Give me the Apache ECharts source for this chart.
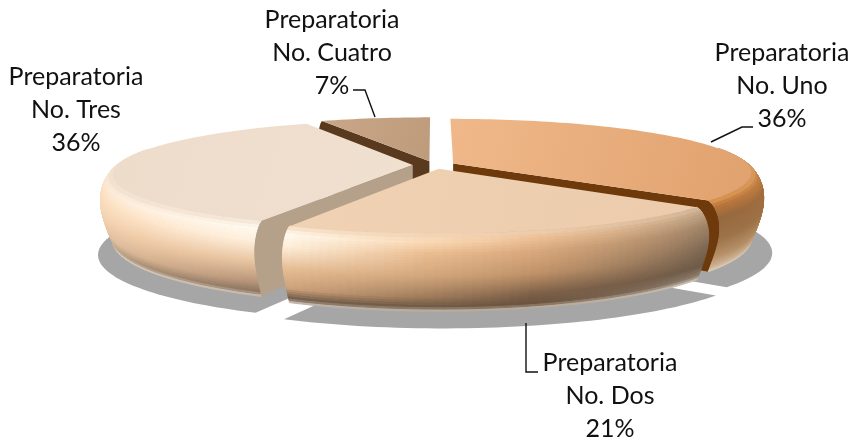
<!DOCTYPE html>
<html><head><meta charset="utf-8">
<style>html,body{margin:0;padding:0;background:#fff}#c{width:854px;height:441px}</style>
<script src="https://cdn.jsdelivr.net/npm/echarts@6/dist/echarts.min.js"></script>
</head><body><div id="c"></div>
<script>
const categories = ["Preparatoria No. Uno","Preparatoria No. Dos","Preparatoria No. Tres","Preparatoria No. Cuatro"];
const shares = [36,21,36,7];

// ---- drawing layout (not data) ----
const CX=434, CY=165, RX=295, RY=52.5, PERSP=0.167, EXPLODE=0.072, WALL=64, BULGE=0.04;
const SHADOW_DROP=78, SHADOW_R=1.06, SHADOW_DX=0.01;
const PROFILE_T=[0,.07,.22,.5,.78,.93,1];
const looks=[
 {z:2, top:['#f0b88a','#e0a26e'], face:'#6e3a0c', rim:[
   [80,['#dca36d','#d08c4c','#b0743c','#a06f42','#b28a5e','#c4a684','#d8c6b0']],
   [130,['#e09a55','#b8743a','#96683f','#9c7349','#b8916a','#cdb294','#ddd0c0']]]},
 {z:4, top:['#f0d2b4','#ebcbab'], face:'#a58c74', rim:[
   [130,['#d8bc9e','#bfa283','#a08468','#7f6a55','#6f5b48','#8f7f6e','#d8d0c4']],
   [165,['#efcfb0','#eec096','#d9a87c','#c09268','#7e6148','#6a523e','#cfc5b8']],
   [182,['#f1d2b4','#fbdcb8','#eabc90','#d2a67c','#a07c5c','#6e5843','#d0c6ba']],
   [205.2,['#f6dcc0','#fffaf0','#fff0dc','#e8bf96','#cfa47c','#705a48','#d8d0c8']]]},
 {z:3, top:['#eedccb','#f0e0d0'], face:'#b5a08a', rim:[
   [205.2,['#f4e4d4','#fffaf0','#fff0de','#e8c4a0','#b8957a','#8b7460','#d9cfc4']],
   [232,['#f0dfce','#fff2e2','#fde4c8','#f0cca8','#d8b492','#a58b72','#e0d6ca']],
   [285,['#efdecd','#f6e0ca','#fad9b5','#fcdfc2','#f6dcc3','#f0d8c0','#f3e4d4']]]},
 {z:1, top:['#c9a687','#bd9b7b'], face:'#5a3a1e', rim:[[340,['#c9a687','#c9a687','#c9a687','#c9a687','#c9a687','#c9a687','#c9a687']]]}
];
const labelLooks=[
 {x:782,y:86,line:[[711,142],[742,127],[753,127]]},
 {x:610,y:396,line:[[526,323],[526,372],[538,372]]},
 {x:76,y:110,line:null},
 {x:332,y:53,line:[[375,117],[365,90],[353,90]]}
];
const FONT='Lato, Carlito, sans-serif';

function hex(c){return [1,3,5].map(i=>parseInt(c.substr(i,2),16));}
function rgbmix(a,b,f){return a.map((v,i)=>v+(b[i]-v)*f);}
function profileColor(stops,t){
  let i=0; while(i<PROFILE_T.length-2&&t>PROFILE_T[i+1])i++;
  const f=(t-PROFILE_T[i])/(PROFILE_T[i+1]-PROFILE_T[i]);
  return rgbmix(hex(stops[i]),hex(stops[i+1]),Math.min(1,Math.max(0,f)));
}
function rimColor(look,deg,t){
  const r=look.rim; let A=r[0],B=r[r.length-1];
  for(let i=0;i<r.length-1;i++){if(deg>=r[i][0]&&deg<=r[i+1][0]){A=r[i];B=r[i+1];}}
  if(deg<r[0][0]){A=B=r[0];} if(deg>r[r.length-1][0]){A=B=r[r.length-1];}
  const f=A===B?0:(deg-A[0])/(B[0]-A[0]);
  const c=rgbmix(profileColor(A[1],t),profileColor(B[1],t),f);
  return 'rgb('+c.map(Math.round).join(',')+')';
}
function project(u,v,drop){const s=1/(1-PERSP*v);return [CX+RX*u*s, CY+RY*v*s+drop*s];}
function prof(t){return 1+BULGE*Math.sin(Math.PI*Math.pow(t,0.7));}

function renderSlice(params,api){
  const idx=params.dataIndex, val=api.value(0);
  let before=0,total=0; shares.forEach((s,i)=>{total+=s;if(i<idx)before+=s;});
  const a0=before/total*360, a1=(before+val)/total*360, mid=(a0+a1)/2*Math.PI/180;
  const ox=EXPLODE*Math.sin(mid), oy=-EXPLODE*Math.cos(mid);
  const look=looks[idx], kids=[];
  const pt=(deg,r,drop)=>{const a=deg*Math.PI/180;return project(ox+r*Math.sin(a),oy-r*Math.cos(a),drop);};
  const poly=(points,fill,z,stroke)=>kids.push({type:'polygon',z2:z,shape:{points},silent:true,
     style:stroke?{fill,stroke:fill,lineWidth:1}:{fill}});
  const n=Math.max(8,Math.round((a1-a0)/1.5));
  const angles=[];for(let i=0;i<=n;i++)angles.push(a0+(a1-a0)*i/n);
  const Z=look.z*100000;

  const sh=[];
  angles.forEach(d=>{const a=d*Math.PI/180;sh.push(project(SHADOW_DX+ox+SHADOW_R*Math.sin(a),oy-Math.cos(a),SHADOW_DROP));});
  sh.push(project(SHADOW_DX+ox,oy,SHADOW_DROP));
  kids.push({type:'polygon',z2:0,silent:true,shape:{points:sh},style:{fill:'#a6a6a6'}});

  const BANDS=30;
  const faceAt=(deg)=>{
    const pts=[pt(deg,0,0)];
    for(let j=0;j<=BANDS;j++){const t=j/BANDS;pts.push(pt(deg,prof(t),t*WALL));}
    pts.push(pt(deg,0,WALL));
    poly(pts,look.face,Z+1);
  };
  if(Math.sin(a1*Math.PI/180)>0.01)faceAt(a1);
  if(Math.sin(a0*Math.PI/180)<-0.01)faceAt(a0);

  // lower bands first, so the upper curve of the wall hides its underside
  for(let j=BANDS-1;j>=0;j--){
    const t=j/BANDS,t2=(j+1)/BANDS;
    for(let i=0;i<n;i++){
      const d0=angles[i],d1=angles[i+1];
      if(-Math.cos((d0+d1)/2*Math.PI/180)<-0.3)continue;
      poly([pt(d0,prof(t),t*WALL),pt(d1,prof(t),t*WALL),pt(d1,prof(t2),t2*WALL),pt(d0,prof(t2),t2*WALL)],
        rimColor(look,(d0+d1)/2,(t+t2)/2),Z+2+(BANDS-j),true);
    }
  }
  const top=[pt(a0,0,0)];angles.forEach(d=>top.push(pt(d,1,0)));
  kids.push({type:'polygon',z2:Z+100,silent:true,shape:{points:top},style:{
    fill:new echarts.graphic.LinearGradient(0,0,1,1,[{offset:0,color:look.top[0]},{offset:1,color:look.top[1]}])}});

  const lab=labelLooks[idx];
  const pct=Math.round(val/total*100)+'%';
  kids.push({type:'text',z2:9000000,silent:true,style:{
    x:lab.x,y:lab.y,text:categories[idx].replace(' No.','\nNo.')+'\n'+pct,
    fill:'#111',font:'25px '+FONT,align:'center',verticalAlign:'middle',lineHeight:33}});
  if(lab.line)kids.push({type:'polyline',z2:9000000,silent:true,shape:{points:lab.line},style:{stroke:'#111',lineWidth:1.4,fill:null}});
  return {type:'group',children:kids};
}
const chart=echarts.init(document.getElementById('c'),null,{renderer:'canvas'});
chart.setOption({animation:false,backgroundColor:'#fff',
  series:[{type:'custom',coordinateSystem:'none',renderItem:renderSlice,silent:true,
    data:shares.map((v,i)=>({name:categories[i],value:[v]}))}]});
</script></body></html>
